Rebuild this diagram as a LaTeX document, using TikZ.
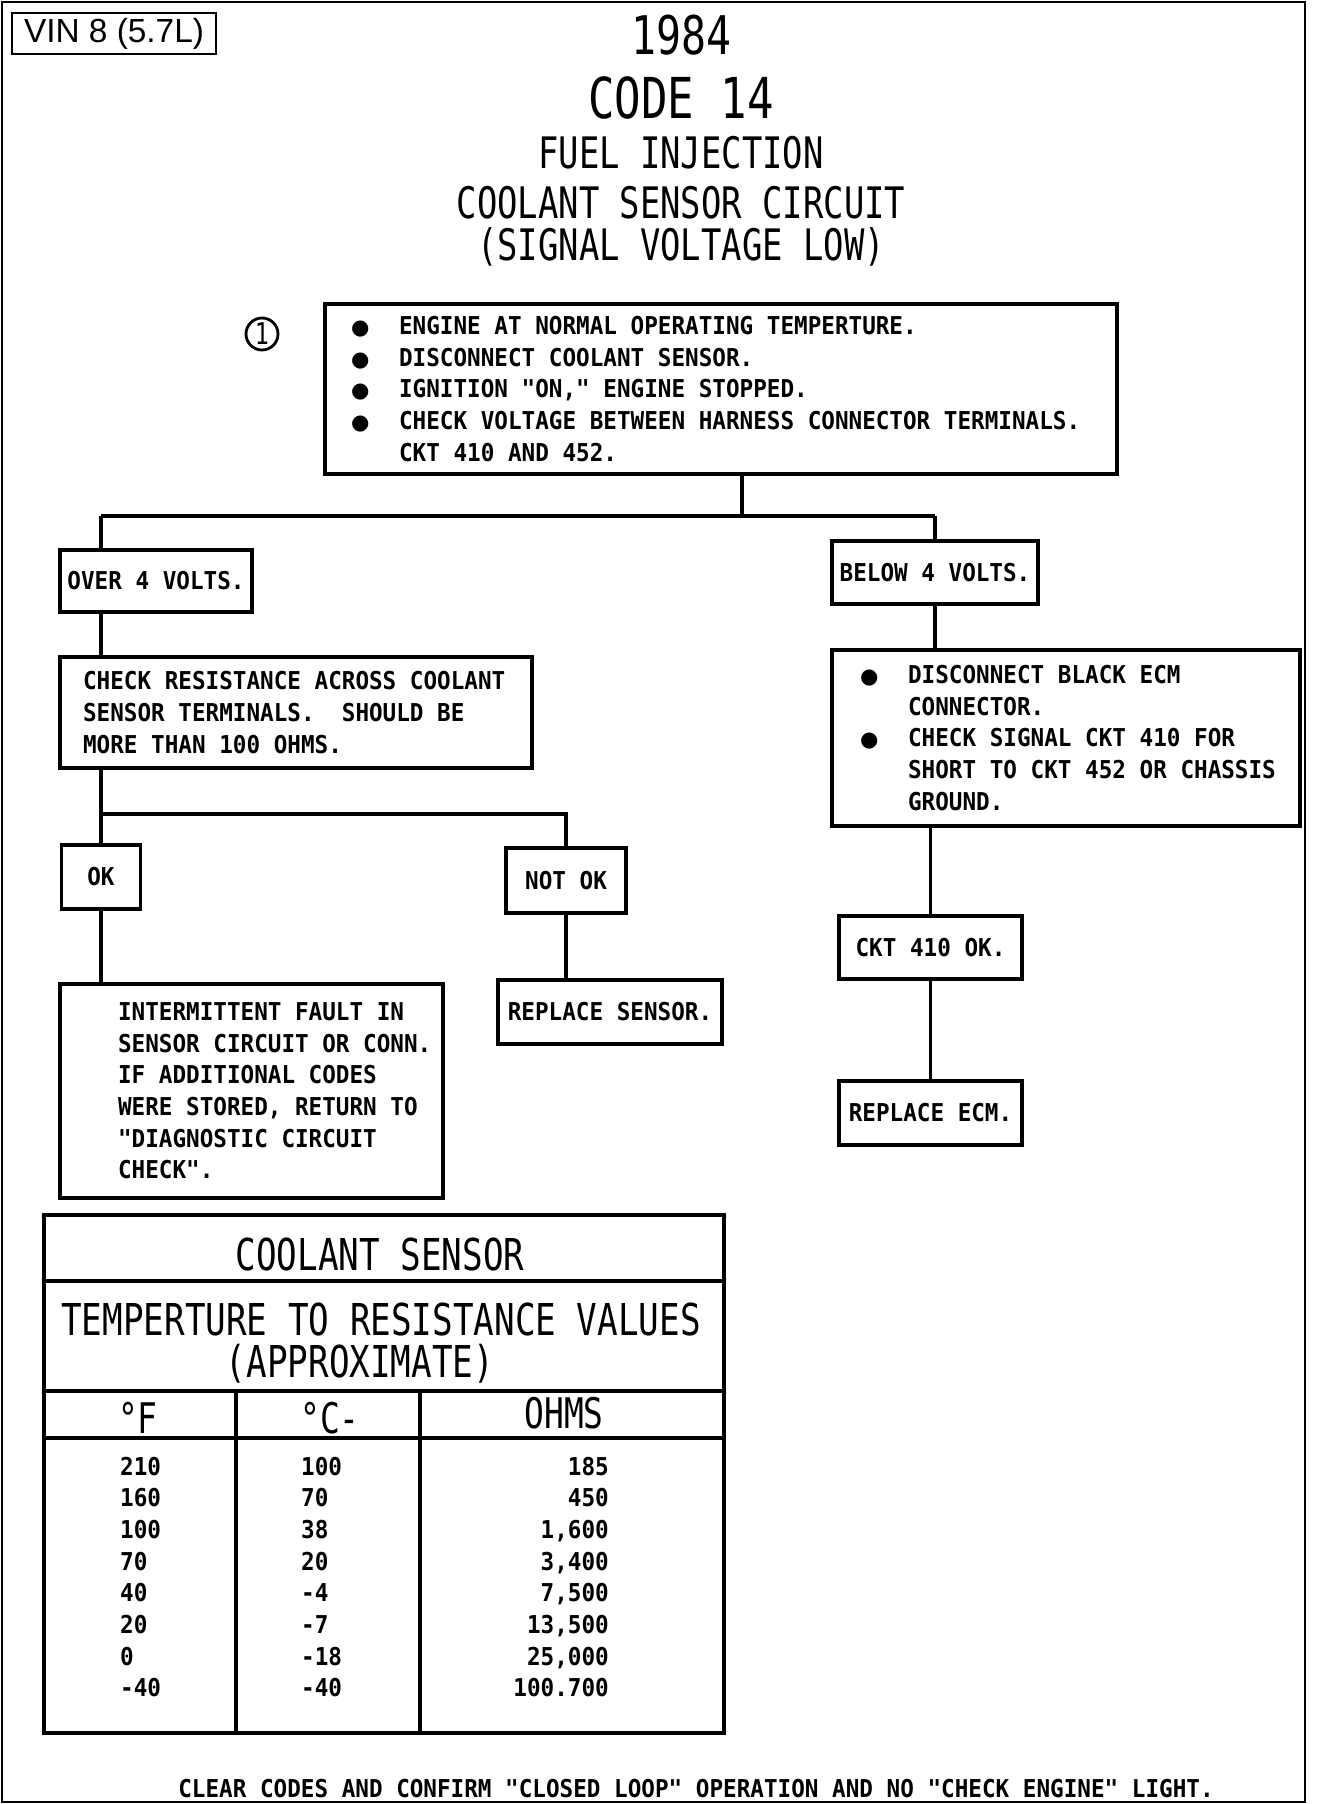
\documentclass[tikz,border=0pt]{standalone}
\usepackage{fontspec}
\setmainfont{DejaVu Sans Mono}
\newfontfamily\titlefont{DejaVu Sans Mono}[FakeStretch=0.78]
\newfontfamily\boxfont{DejaVu Sans Mono}[FakeStretch=0.92]
\newfontfamily\vinfont{Liberation Sans}
\newfontfamily\dotfont{DejaVu Sans}
\newcommand{\bul}{\makebox[0.96cm][l]{\dotfont\fontsize{12}{12}\selectfont ●}}
\newcommand{\ind}{\hspace*{0.96cm}}
\newcommand{\margin}[1]{\leftskip=#1\spaceskip=0pt\xspaceskip=0pt\relax}

\begin{document}
\begin{tikzpicture}[x=0.02cm, y=-0.02cm,
  box/.style={draw, line width=1.9pt, inner sep=0pt, font=\boxfont\bfseries\fontsize{14}{18}\selectfont},
  textbox/.style={box, inner xsep=0.1cm, align=left},
  wire/.style={line width=1.9pt},
  heading/.style={anchor=base, font=\titlefont\fontsize{#1}{#1}\selectfont},
  cell/.style={font=\boxfont\bfseries\fontsize{14}{18}\selectfont}]

\useasboundingbox (0,0) rectangle (1328,1804);

% Outer frame
\draw[line width=1.5pt] (2,2) rectangle (1305,1802);

% Title block
\node[draw, line width=1.5pt, minimum width=4.08cm, minimum height=0.82cm, inner sep=0pt,
  font=\vinfont\fontsize{19}{19}\selectfont] (vin) at (114,33.5) {VIN 8 (5.7L)};
\node[heading=30.3] (year) at (681,55) {1984};
\node[heading=32.1] (code) at (681,118.5) {CODE 14};
\node[heading=24.7] (sys) at (681,169) {FUEL INJECTION};
\node[heading=24.7] (circ) at (681,218.5) {COOLANT SENSOR CIRCUIT};
\node[heading=24.7] (sig) at (681,261) {(SIGNAL VOLTAGE LOW)};

% Step 1
\node[draw, circle, line width=1.6pt, minimum size=0.64cm, inner sep=0pt,
  font=\titlefont\fontsize{17}{17}\selectfont] (one) at (262,334) {1};
\node[textbox, text width=15.64cm, minimum height=3.4cm] (step1) at (721,389)
  {\margin{0.42cm}%
   \bul ENGINE AT NORMAL OPERATING TEMPERTURE.\\
   \bul DISCONNECT COOLANT SENSOR.\\
   \bul IGNITION "ON," ENGINE STOPPED.\\
   \bul CHECK VOLTAGE BETWEEN HARNESS CONNECTOR TERMINALS.\\
   \ind CKT 410 AND 452.\par};

% Left branch
\node[box, minimum width=3.84cm, minimum height=1.24cm] (over) at (156,581) {OVER 4 VOLTS.};
\node[textbox, text width=9.24cm, minimum height=2.22cm] (resist) at (296,712.5)
  {\margin{0.36cm}%
   CHECK RESISTANCE ACROSS COOLANT\\
   SENSOR TERMINALS.\ \ SHOULD BE\\
   MORE THAN 100 OHMS.\par};
\node[box, minimum width=1.58cm, minimum height=1.28cm] (ok) at (101,877) {OK};
\node[box, minimum width=2.4cm, minimum height=1.3cm] (notok) at (566,880.5) {NOT OK};
\node[textbox, text width=7.46cm, minimum height=4.28cm] (intermit) at (251.5,1091)
  {\margin{1.06cm}%
   INTERMITTENT FAULT IN\\
   SENSOR CIRCUIT OR CONN.\\
   IF ADDITIONAL CODES\\
   WERE STORED, RETURN TO\\
   "DIAGNOSTIC CIRCUIT\\
   CHECK".\par};
\node[box, minimum width=4.48cm, minimum height=1.28cm] (repsensor) at (610,1012) {REPLACE SENSOR.};

% Right branch
\node[box, minimum width=4.12cm, minimum height=1.26cm] (below) at (935,572.5) {BELOW 4 VOLTS.};
\node[textbox, text width=9.16cm, minimum height=3.52cm] (disconnect) at (1066,738)
  {\margin{0.46cm}%
   \bul DISCONNECT BLACK ECM\\
   \ind CONNECTOR.\\
   \bul CHECK SIGNAL CKT 410 FOR\\
   \ind SHORT TO CKT 452 OR CHASSIS\\
   \ind GROUND.\par};
\node[box, minimum width=3.66cm, minimum height=1.26cm] (ckt) at (930.5,947.5) {CKT 410 OK.};
\node[box, minimum width=3.66cm, minimum height=1.28cm] (repecm) at (930.5,1113) {REPLACE ECM.};

% Connectors
\coordinate (tap) at (742,516);
\coordinate (lbus) at (101,516);
\coordinate (rbus) at (below.north |- tap);
\coordinate (lsplit) at (101,814);
\draw[wire] (tap |- step1.south) -- (tap);
\draw[wire] (lbus) -- (rbus);
\draw[wire] (lbus) -- (lbus |- over.north);
\draw[wire] (rbus) -- (below.north);
\draw[wire] (lbus |- over.south) -- (lbus |- resist.north);
\draw[wire] (lbus |- resist.south) -- (lsplit) -| (notok.north);
\draw[wire] (lsplit) -- (ok.north);
\draw[wire] (ok.south) -- (ok.south |- intermit.north);
\draw[wire] (notok.south) -- (notok.south |- repsensor.north);
\draw[wire] (below.south) -- (below.south |- disconnect.north);
\draw[wire] (ckt.north |- disconnect.south) -- (ckt.north);
\draw[wire] (ckt.south) -- (repecm.north);

% Resistance table
\draw[wire] (44,1215) rectangle (724,1733);
\draw[wire] (44,1281) -- (724,1281);
\draw[wire] (44,1391) -- (724,1391);
\draw[wire] (44,1438) -- (724,1438);
\draw[wire] (236,1391) -- (236,1733);
\draw[wire] (420,1391) -- (420,1733);

\node[heading=25] (tabname) at (380,1270) {COOLANT SENSOR};
\node[heading=25] (tabsub) at (381,1335) {TEMPERTURE TO RESISTANCE VALUES};
\node[heading=25] (tabnote) at (360,1377) {(APPROXIMATE)};
\node[heading=24] (hdf) at (138,1433) {°F};
\node[heading=24] (hdc) at (330,1433) {°C-};
\node[heading=24] (hdo) at (564,1428) {OHMS};

\foreach \f/\c/\o [count=\i from 0] in {210/100/185, 160/70/450, 100/38/{1,600},
    70/20/{3,400}, 40/-4/{7,500}, 20/-7/{13,500}, 0/-18/{25,000}, -40/-40/{100.700}} {
  \node[cell, anchor=base west] (f\i) at (114,1475+31.7*\i) {\f};
  \node[cell, anchor=base west] (c\i) at (295,1475+31.7*\i) {\c};
  \node[cell, anchor=base east] (o\i) at (615,1475+31.7*\i) {\o};
}

% Footer
\node[cell, anchor=base] (footer) at (696,1797)
  {CLEAR CODES AND CONFIRM "CLOSED LOOP" OPERATION AND NO "CHECK ENGINE" LIGHT.};

\end{tikzpicture}
\end{document}
